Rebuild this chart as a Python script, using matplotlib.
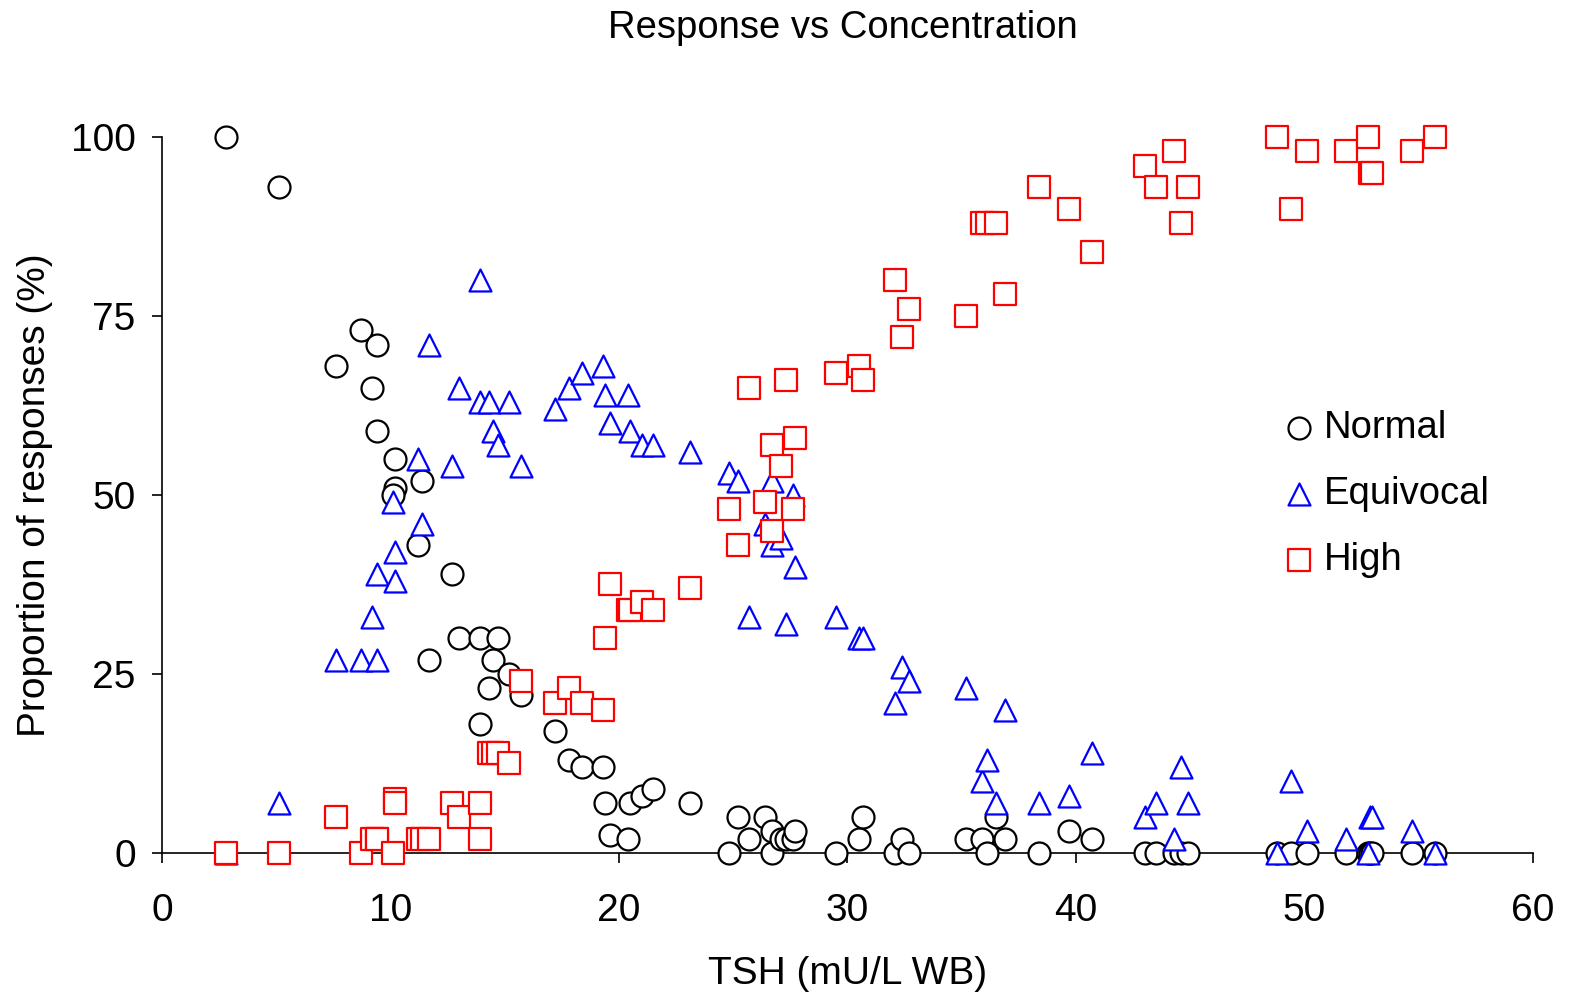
import matplotlib
matplotlib.use("Agg")
import matplotlib.pyplot as plt

plt.rcParams["font.family"] = ["Liberation Sans", "DejaVu Sans"]

# TSH concentration and the share of responses in each category at that sample
tsh = [2.8, 5.1, 7.6, 8.7, 9.2, 9.4, 9.4, 10.2, 10.2, 10.1,
       11.2, 11.4, 11.7, 12.7, 13.0, 13.9, 13.9, 14.3, 14.5, 14.7,
       15.2, 15.7, 17.2, 17.8, 18.4, 19.3, 19.4, 19.6, 20.4, 20.5,
       21.0, 21.5, 23.1, 24.8, 25.2, 25.7, 26.4, 26.7, 26.7, 27.1,
       27.3, 27.6, 27.7, 29.5, 30.5, 30.7, 32.1, 32.4, 32.7, 35.2,
       35.9, 36.1, 36.5, 36.9, 38.4, 39.7, 40.7, 43.0, 43.5, 44.3,
       44.6, 44.9, 48.8, 49.4, 50.1, 51.8, 52.8, 52.85, 52.95, 54.7,
       55.7]
normal = [100, 93, 68, 73, 65, 71, 59, 55, 51, 50,
          43, 52, 27, 39, 30, 30, 18, 23, 27, 30,
          25, 22, 17, 13, 12, 12, 7, 2.5, 2, 7,
          8, 9, 7, 0, 5, 2, 5, 3, 0, 2,
          2, 2, 3, 0, 2, 5, 0, 2, 0, 2,
          2, 0, 5, 2, 0, 3, 2, 0, 0, 0,
          0, 0, 0, 0, 0, 0, 0, 0, 0, 0,
          0]
equivocal = [0, 7, 27, 27, 33, 27, 39, 38, 42, 49,
             55, 46, 71, 54, 65, 63, 80, 63, 59, 57,
             63, 54, 62, 65, 67, 68, 64, 60, 64, 59,
             57, 57, 56, 53, 52, 33, 46, 52, 43, 44,
             32, 50, 40, 33, 30, 30, 21, 26, 24, 23,
             10, 13, 7, 20, 7, 8, 14, 5, 7, 2,
             12, 7, 0, 10, 3, 2, 0, 5, 5, 3,
             0]
high = [0, 0, 5, 0, 2, 2, 2, 7.5, 7, 0,
        2, 2, 2, 7, 5, 7, 2, 14, 14, 14,
        12.5, 24, 21, 23, 21, 20, 30, 37.5, 34, 34,
        35, 34, 37, 48, 43, 65, 49, 45, 57, 54,
        66, 48, 58, 67, 68, 66, 80, 72, 76, 75,
        88, 88, 88, 78, 93, 90, 84, 96, 93, 98,
        88, 93, 100, 90, 98, 98, 100, 95, 95, 98,
        100]

x_ticks = [0, 10, 20, 30, 40, 50, 60]
y_ticks = [0, 25, 50, 75, 100]

fig = plt.figure(figsize=(15.7, 9.96), dpi=100)
ax = fig.add_axes([0.1032, 0.1436, 0.8732, 0.7189])

mk = dict(s=250, facecolors="white", linewidths=1.6, clip_on=False, zorder=3)
ax.scatter(tsh, normal, marker="o", edgecolors="black", label="Normal", **mk)
ax.scatter(tsh, equivocal, marker="^", edgecolors="#0000FF", label="Equivocal", **mk)
ax.scatter(tsh, high, marker="s", edgecolors="#FF0000", label="High", **mk)

ax.set_xlim(0, 60)
ax.set_ylim(0, 100)
ax.set_xticks(x_ticks)
ax.set_yticks(y_ticks)
ax.tick_params(direction="out", length=7, width=1.2, labelsize=28)
ax.tick_params(axis="x", pad=22)
ax.tick_params(axis="y", pad=12)
for s in ("top", "right"):
    ax.spines[s].set_visible(False)
for s in ("left", "bottom"):
    ax.spines[s].set_linewidth(1.2)

ax.set_xlabel("TSH (mU/L WB)", fontsize=28, labelpad=19)
ax.set_ylabel("Proportion of responses (%)", fontsize=28, labelpad=13)
fig.suptitle("Response vs Concentration", fontsize=27.5, x=0.537, y=0.99)

ax.legend(loc="upper left", bbox_to_anchor=(0.807, 0.640), frameon=False,
          fontsize=27.5, handlelength=0.8, handletextpad=0.25,
          labelspacing=0.78, borderaxespad=0, scatterpoints=1)

fig.savefig("out.png", dpi=100)
